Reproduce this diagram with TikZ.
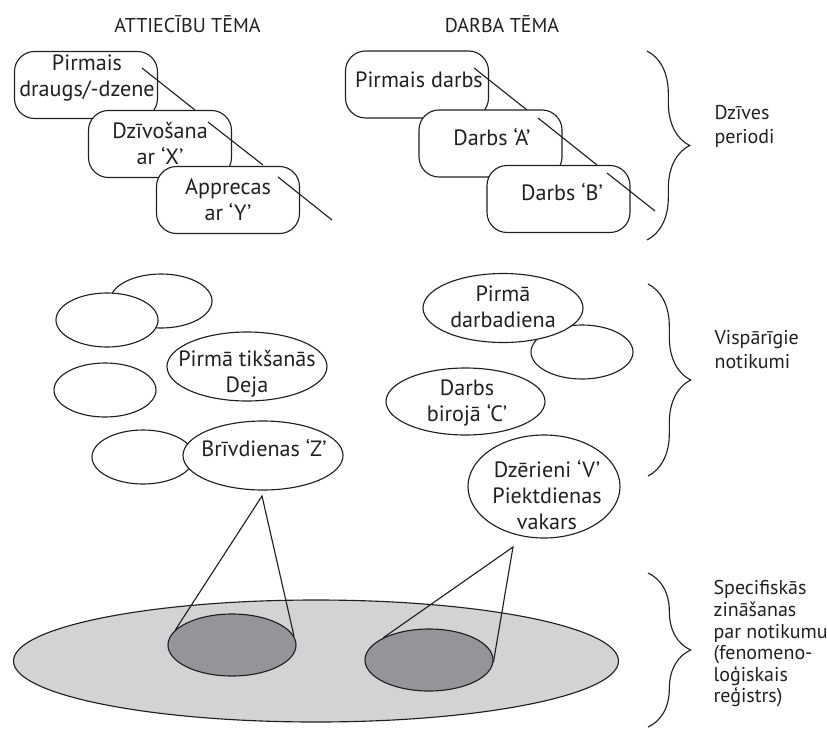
\documentclass[tikz,border=0pt]{standalone}
\usepackage{fontspec}
\setmainfont{PT Sans}
\usetikzlibrary{shapes.geometric,decorations.pathreplacing,calc}
\definecolor{ink}{HTML}{231F20}
\definecolor{lightfill}{HTML}{D1D3D4}
\definecolor{darkfill}{HTML}{939598}
\begin{document}
\begin{tikzpicture}[x=0.75pt,y=-0.75pt,line width=0.85pt,
  periodbox/.style={draw=ink,fill=white,rounded corners=15pt,minimum width=107.25pt,minimum height=50.25pt,inner sep=0pt},
  evbox/.style={ellipse,draw=ink,fill=white,inner sep=0pt},
  smallev/.style={evbox,minimum width=76.5pt,minimum height=40.5pt},
  bigev/.style={evbox,minimum width=120pt,minimum height=51.75pt},
  txt/.style={align=center,inner sep=0pt,text=ink,font=\fontsize{16.6}{19.5}\selectfont},
  headtxt/.style={inner sep=0pt,text=ink,font=\fontsize{15}{17}\selectfont},
  sidetxt/.style={align=left,anchor=west,inner sep=0pt,text=ink,font=\fontsize{15}{18}\selectfont},
  bracedraw/.style={draw=ink,decorate,decoration={brace,amplitude=32pt}},
  plainline/.style={draw=ink}]
\useasboundingbox (0,0) rectangle (827,728);

% headers
\node[headtxt] (h1) at (187.5,24) {ATTIECĪBU TĒMA};
\node[headtxt] (h2) at (502,24) {DARBA TĒMA};

% left period boxes
\node[periodbox] (b1) at (86,85) {};
\coordinate (la1) at (142,68); \coordinate (lb1) at (195,110);
\draw[plainline] (la1) -- (lb1);
\node[periodbox] (b2) at (160,144) {};
\coordinate (la2) at (208,122); \coordinate (lb2) at (263,165);
\draw[plainline] (la2) -- (lb2);
\node[periodbox] (b3) at (228,200) {};
\coordinate (la3) at (278,177); \coordinate (lb3) at (332,220);
\draw[plainline] (la3) -- (lb3);
\node[txt] (t1) at (87,78) {Pirmais\\draugs/-dzene};
\node[txt] (t2) at (160,143.5) {Dzīvošana\\ar ‘X’};
\node[txt] (t3) at (228,199.5) {Apprecas\\ar ‘Y’};

% right period boxes
\node[periodbox] (r1) at (417,84.5) {};
\coordinate (ra1) at (474,68); \coordinate (rb1) at (527,110);
\draw[plainline] (ra1) -- (rb1);
\node[periodbox] (r2) at (490.5,143.5) {};
\coordinate (ra2) at (538,118); \coordinate (rb2) at (597,165);
\draw[plainline] (ra2) -- (rb2);
\node[periodbox] (r3) at (558.5,199) {};
\coordinate (ra3) at (607,173); \coordinate (rb3) at (655,211);
\draw[plainline] (ra3) -- (rb3);
\node[txt] (rt1) at (419,80) {Pirmais darbs};
\node[txt] (rt2) at (492,137) {Darbs ‘A’};
\node[txt] (rt3) at (562,192) {Darbs ‘B’};

% general events, left
\node[smallev] (ea) at (161,301) {};
\node[smallev] (eb) at (107,320) {};
\node[bigev] (edeja) at (247,366.5) {};
\node[txt] (tdeja) at (247,374) {Pirmā tikšanās\\Deja};
\node[smallev] (ec) at (105,390) {};
\node[smallev] (ed) at (143,457) {};
\node[bigev] (ez) at (263,455.5) {};
\node[txt] (tz) at (264,448) {Brīvdienas ‘Z’};

% general events, right
\node[smallev] (ee) at (582,352) {};
\node[bigev] (edarb) at (503,308) {};
\node[txt] (tdarb) at (503,306.5) {Pirmā\\darbadiena};
\node[evbox,minimum width=119.25pt,minimum height=50.25pt] (ec2) at (465.5,401.5) {};
\node[txt] (tc2) at (467,403.5) {Darbs\\birojā ‘C’};
\node[evbox,minimum width=114pt,minimum height=77.25pt] (ev) at (544,486.5) {};
\node[txt] (tv) at (547,495.5) {Dzērieni ‘V’\\Piektdienas\\vakars};

% specific knowledge
\node[ellipse,draw=ink,fill=lightfill,inner sep=0pt,minimum width=453.75pt,minimum height=91.5pt] (reg) at (316,661) {};
\node[ellipse,draw=ink,fill=darkfill,inner sep=0pt,minimum width=96pt,minimum height=46.5pt] (d1) at (232,645) {};
\node[ellipse,draw=ink,fill=darkfill,inner sep=0pt,minimum width=96pt,minimum height=46.5pt] (d2) at (429,660) {};
\coordinate (apex1) at (262,496);
\coordinate (apex2) at (513,547);
\draw[plainline] (d1.165) -- (apex1) -- (d1.8);
\draw[plainline] (d2.154) -- (apex2) -- (d2.358);

% braces
\coordinate (br1a) at (647,51); \coordinate (br1b) at (647,240);
\coordinate (br2a) at (648,284); \coordinate (br2b) at (648,476);
\coordinate (br3a) at (648,573); \coordinate (br3b) at (648,727);
\draw[bracedraw] (br1a) -- (br1b);
\draw[bracedraw] (br2a) -- (br2b);
\draw[bracedraw] (br3a) -- (br3b);

\node[sidetxt] (s1) at (714,126.5) {Dzīves\\periodi};
\node[sidetxt] (s2) at (714,350) {Vispārīgie\\notikumi};
\node[sidetxt,font=\fontsize{15}{16.2}\selectfont] (s3) at (713,644) {Specifiskās\\zināšanas\\par notikumu\\(fenomeno-\\loģiskais\\reģistrs)};
\end{tikzpicture}
\end{document}
